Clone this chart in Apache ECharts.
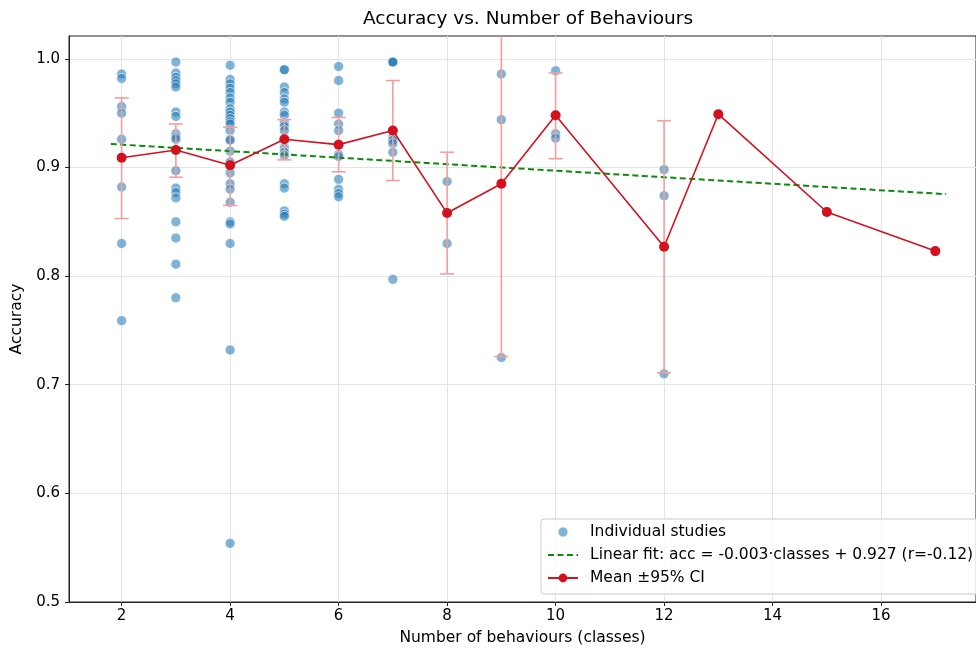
<!DOCTYPE html>
<html>
<head>
<meta charset="utf-8">
<script src="https://cdn.jsdelivr.net/npm/echarts@6/dist/echarts.min.js"></script>
<style>
  html, body { margin: 0; padding: 0; background: #fff; }
  #chart { width: 976px; height: 653px; }
</style>
</head>
<body>
<div id="chart"></div>
<script>
// Accuracy of individual studies, grouped by number of behaviour classes
const acc2  = [0.986, 0.982, 0.956, 0.950, 0.926, 0.882, 0.830, 0.759];
const acc3  = [0.997, 0.987, 0.983, 0.980, 0.977, 0.974, 0.951, 0.947, 0.931, 0.928, 0.926,
               0.897, 0.881, 0.877, 0.872, 0.850, 0.835, 0.811, 0.780];
const acc4  = [0.994, 0.981, 0.977, 0.973, 0.969, 0.964, 0.960, 0.954, 0.951, 0.948, 0.945,
               0.942, 0.940, 0.934, 0.926, 0.925, 0.915, 0.905, 0.895, 0.885, 0.880, 0.868,
               0.850, 0.848, 0.830, 0.732, 0.554];
const acc5  = [0.990, 0.990, 0.974, 0.969, 0.963, 0.960, 0.951, 0.948, 0.941, 0.938, 0.934,
               0.926, 0.918, 0.914, 0.911, 0.885, 0.881, 0.860, 0.857, 0.855];
const acc6  = [0.993, 0.980, 0.950, 0.940, 0.934, 0.912, 0.910, 0.889, 0.880, 0.876, 0.873];
const acc7  = [0.997, 0.997, 0.997, 0.928, 0.925, 0.922, 0.914, 0.797];
const acc8  = [0.887, 0.830];
const acc9  = [0.986, 0.944, 0.725];
const acc10 = [0.989, 0.931, 0.927];
const acc12 = [0.898, 0.874, 0.710];
const acc13 = [0.949];
const acc15 = [0.859];
const acc17 = [0.823];

const studyGroups = [
  [2, acc2], [3, acc3], [4, acc4], [5, acc5], [6, acc6], [7, acc7], [8, acc8],
  [9, acc9], [10, acc10], [12, acc12], [13, acc13], [15, acc15], [17, acc17]
];

// Per-class mean accuracy with 95% confidence interval
const meanClasses = [2, 3, 4, 5, 6, 7, 8, 9, 10, 12, 13, 15, 17];
const meanAcc     = [0.909, 0.916, 0.902, 0.926, 0.921, 0.934, 0.858, 0.885, 0.948, 0.827, 0.949, 0.859, 0.823];
const ciLow       = [0.853, 0.891, 0.865, 0.907, 0.896, 0.888, 0.802, 0.726, 0.908, 0.711, null, null, null];
const ciHigh      = [0.964, 0.940, 0.937, 0.944, 0.946, 0.980, 0.914, 1.044, 0.987, 0.943, null, null, null];

// Linear fit
const fitSlope = -0.003;
const fitIntercept = 0.927;
const fitRange = [1.8, 17.2];
const fitLabel = 'Linear fit: acc = -0.003\u00b7classes + 0.927 (r=-0.12)';
const meanLabel = 'Mean \u00b195% CI';
const studyLabel = 'Individual studies';

// Tick labels
const xTicks = [2, 4, 6, 8, 10, 12, 14, 16];
const yTicks = [0.5, 0.6, 0.7, 0.8, 0.9, 1.0];

const scatterData = [];
studyGroups.forEach(([c, vals]) => vals.forEach(v => scatterData.push([c, v])));

const meanData = meanClasses.map((c, i) => [c, meanAcc[i]]);
const errData = [];
meanClasses.forEach((c, i) => {
  if (ciLow[i] != null) errData.push([c, ciLow[i], ciHigh[i]]);
});
const fitData = fitRange.map(x => [x, fitSlope * x + fitIntercept]);

const FONT = 'DejaVu Sans';
const RED = '#d3111f';
const GREEN = '#0b8a0b';
const PINK = '#f89d9a';

const chart = echarts.init(document.getElementById('chart'), null, { renderer: 'canvas' });

chart.setOption({
  animation: false,
  backgroundColor: '#fff',
  textStyle: { fontFamily: FONT },
  title: {
    text: 'Accuracy vs. Number of Behaviours',
    left: 528,
    top: 10,
    padding: 0,
    textAlign: 'center',
    textStyle: { fontFamily: FONT, fontSize: 18.5, fontWeight: 'normal', color: '#000' }
  },
  grid: {
    left: 69, top: 36, right: 0, bottom: 51,
    show: true, borderColor: '#222', borderWidth: 1, backgroundColor: 'transparent'
  },
  legend: {
    orient: 'vertical',
    left: 541, top: 519,
    padding: [5, 20, 8, 6],
    itemGap: 7,
    itemWidth: 30,
    itemHeight: 11,
    backgroundColor: 'rgba(255,255,255,0.8)',
    borderColor: '#cccccc',
    borderWidth: 1,
    borderRadius: 3,
    textStyle: { fontFamily: FONT, fontSize: 15.5, color: '#000', padding: [0, 0, 0, 7] },
    data: [
      { name: studyLabel },
      { name: fitLabel, itemStyle: { opacity: 0 } },
      { name: meanLabel }
    ]
  },
  xAxis: {
    type: 'value',
    min: 1.03, max: 17.75,
    name: 'Number of behaviours (classes)',
    nameLocation: 'middle',
    nameGap: 28,
    nameTextStyle: { fontFamily: FONT, fontSize: 15.5, color: '#000' },
    axisLine: { show: true, onZero: false, lineStyle: { color: '#222', width: 1 } },
    axisTick: { show: true, length: 4, lineStyle: { color: '#222' }, customValues: xTicks },
    axisLabel: { customValues: xTicks, fontFamily: FONT, fontSize: 15, color: '#000', margin: 7,
                 formatter: v => String(v) },
    splitLine: { show: true, lineStyle: { color: '#e4e4e4', width: 1 } }
  },
  yAxis: {
    type: 'value',
    min: 0.5, max: 1.021,
    name: 'Accuracy',
    nameLocation: 'middle',
    nameGap: 43,
    nameTextStyle: { fontFamily: FONT, fontSize: 15.5, color: '#000' },
    axisLine: { show: true, onZero: false, lineStyle: { color: '#222', width: 1 } },
    axisTick: { show: true, length: 4, lineStyle: { color: '#222' }, customValues: yTicks },
    axisLabel: { customValues: yTicks, fontFamily: FONT, fontSize: 15, color: '#000', margin: 9,
                 formatter: v => v.toFixed(1) },
    splitLine: { show: true, lineStyle: { color: '#e4e4e4', width: 1 } }
  },
  series: [
    {
      name: studyLabel,
      type: 'scatter',
      data: scatterData,
      symbol: 'circle',
      symbolSize: 10,
      z: 2,
      itemStyle: { color: 'rgba(31,119,180,0.7)', borderColor: '#ffffff', borderWidth: 0.8 }
    },
    {
      name: fitLabel,
      type: 'line',
      data: fitData,
      symbol: 'none',
      z: 3,
      lineStyle: { color: GREEN, width: 2, type: [6, 3.5] },
      itemStyle: { color: GREEN }
    },
    {
      name: meanLabel,
      type: 'line',
      data: meanData,
      symbol: 'circle',
      symbolSize: 10,
      z: 5,
      lineStyle: { color: RED, width: 1.6 },
      itemStyle: { color: RED, borderColor: RED, borderWidth: 0 }
    },
    {
      // 95% confidence interval whiskers with caps
      name: meanLabel,
      type: 'custom',
      data: errData,
      z: 4,
      clip: true,
      silent: true,
      renderItem: (params, api) => {
        const x = api.value(0);
        const lo = api.coord([x, api.value(1)]);
        const hi = api.coord([x, api.value(2)]);
        const cap = 7;
        const st = { stroke: PINK, lineWidth: 1.6 };
        return {
          type: 'group',
          children: [
            { type: 'line', shape: { x1: lo[0], y1: lo[1], x2: hi[0], y2: hi[1] }, style: st },
            { type: 'line', shape: { x1: lo[0] - cap, y1: lo[1], x2: lo[0] + cap, y2: lo[1] }, style: st },
            { type: 'line', shape: { x1: hi[0] - cap, y1: hi[1], x2: hi[0] + cap, y2: hi[1] }, style: st }
          ]
        };
      }
    }
  ]
});
</script>
</body>
</html>
